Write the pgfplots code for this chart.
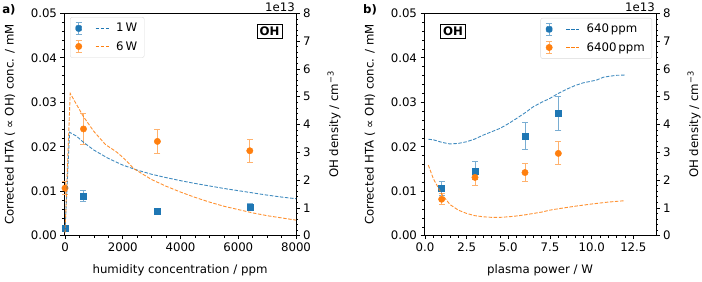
\documentclass[border=0pt]{standalone}
\usepackage{fontspec}
\setmainfont{DejaVu Sans}
\usepackage{pgfplots}
\pgfplotsset{compat=1.18}
\definecolor{tabblue}{HTML}{1F77B4}
\definecolor{taborange}{HTML}{FF7F0E}
\newcommand{\fs}{\fontsize{11.8}{14}\selectfont}
\pgfplotsset{
 base/.style={scale only axis, width=232bp, height=222.4bp,
   font=\fs, /pgf/number format/assume math mode=true,
   tick align=outside, major tick length=3.5bp, minor tick length=2bp,
   every tick/.style={black, line width=0.6bp},
   axis line style={line width=0.8bp},
   ymin=0, scaled ticks=false, clip=false,
   tick label style={font=\fs}, label style={font=\fs}},
 leftax/.style={base, axis y line*=left, xtick pos=bottom, ymax=0.05,
   ytick={0,0.01,0.02,0.03,0.04,0.05}, minor y tick num=4,
   yticklabel style={/pgf/number format/.cd, fixed, fixed zerofill, precision=2},
   ylabel={Corrected HTA ( ∝ OH) conc. / mM},
   ylabel style={at={(rel axis cs:0,0.5)}, anchor=center, yshift=54bp},
   xlabel style={at={(rel axis cs:0.5,0)}, yshift=-35bp, anchor=center}},
 rightax/.style={base, axis y line*=right, axis x line=none, ymax=8,
   ytick={0,1,2,3,4,5,6,7,8}, minor y tick num=4,
   ylabel={OH density / cm\textsuperscript{−3}},
   ylabel style={at={(rel axis cs:1,0.5)}, anchor=center, yshift=-38bp}},
 ebblue/.style={only marks, mark=square*, mark size=3bp, color=tabblue,
   error bars/.cd, y dir=both, y explicit,
   error bar style={tabblue!60, line width=1bp},
   error mark options={tabblue!60, rotate=90, mark size=3bp, line width=1bp}},
 eborange/.style={only marks, mark=*, mark size=3.2bp, color=taborange,
   error bars/.cd, y dir=both, y explicit,
   error bar style={taborange!60, line width=1bp},
   error mark options={taborange!60, rotate=90, mark size=3bp, line width=1bp}},
 dline/.style={line width=0.9bp, dash pattern=on 3.5bp off 1.6bp, opacity=0.85},
 lgd/.style={legend cell align=left, legend style={draw=black!15, rounded corners=2bp,
   fill=white, font=\fs, row sep=4bp, inner xsep=5bp, inner ysep=4bp,
   /tikz/every odd column/.append style={column sep=5bp},
   /tikz/every even column/.append style={column sep=6bp}}},
}
\newcommand{\legimg}[2]{\addlegendimage{legend image code/.code={
  \draw[#1!60, line width=1bp] (8bp,-6bp) -- (8bp,6bp) (5bp,-6bp) -- (11bp,-6bp) (5bp,6bp) -- (11bp,6bp);
  #2
  \draw[#1, line width=0.9bp, dash pattern=on 3.5bp off 1.6bp] (25bp,0bp) -- (38bp,0bp);}}}
\begin{document}
\begin{tikzpicture}
\useasboundingbox (-64bp,-46.3bp) rectangle (638bp,235.7bp);
% ---------- panel a ----------
\begin{axis}[leftax, at={(0bp,0bp)}, xmin=-35, xmax=8000,
  xtick={0,2000,4000,6000,8000}, minor x tick num=3,
  xticklabel style={/pgf/number format/1000 sep={}},
  xlabel={humidity concentration / ppm}]
\addplot[ebblue] table[x=x, y=y, y error=e] {
x y e
0 0.00166 0.0004
640 0.0089 0.0013
3200 0.0056 0.0006
6400 0.0065 0.0008
};
\addplot[eborange] table[x=x, y=y, y error=e] {
x y e
0 0.0107 0.0015
640 0.0240 0.0034
3200 0.0212 0.0027
6400 0.0191 0.0026
};
\end{axis}
\begin{axis}[rightax, at={(0bp,0bp)}, xmin=-35, xmax=8000, lgd,
  legend style={at={(0.026,0.983)}, anchor=north west}]
\addplot[tabblue, dline, forget plot] coordinates {
(0,0.2) (160,3.72) (400,3.58) (640,3.36) (1000,3.08) (1500,2.78) (2000,2.54)
(2500,2.36) (3000,2.21) (3500,2.09) (4000,1.98) (4500,1.88) (5000,1.79)
(5500,1.70) (6000,1.62) (6500,1.54) (7000,1.46) (7500,1.39) (8000,1.33)};
\addplot[taborange, dline, forget plot] coordinates {
(0,0.1) (180,5.12) (640,4.28) (1000,3.75) (1400,3.28) (1800,3.0) (2000,2.82)
(2400,2.4) (3000,2.02) (3500,1.78) (4000,1.57) (4500,1.38) (5000,1.21)
(5500,1.06) (6000,0.94) (6500,0.82) (7000,0.72) (7500,0.64) (8000,0.56)};
\legimg{tabblue}{\fill[tabblue] (5bp,-3bp) rectangle (11bp,3bp);}
\addlegendentry{1\,W}
\legimg{taborange}{\fill[taborange] (8bp,0bp) circle (3.2bp);}
\addlegendentry{6\,W}
\node[anchor=south east, inner sep=1bp, font=\fs] at (rel axis cs:1,1) {1e13};
\node[draw, line width=0.9bp, font=\fs\bfseries, inner sep=2.5bp, fill=white] at (rel axis cs:0.886,0.92) {OH};
\node[anchor=north west, font=\fs\bfseries, inner sep=0pt] at (rel axis cs:-0.267,1.04) {a)};
\end{axis}
% ---------- panel b ----------
\begin{axis}[leftax, at={(360bp,0bp)}, xmin=-0.06, xmax=13.86,
  xtick={0,2.5,5,7.5,10,12.5}, minor x tick num=4,
  xticklabel style={/pgf/number format/.cd, fixed, fixed zerofill, precision=1},
  xlabel={plasma power / W}]
\addplot[ebblue] table[x=x, y=y, y error=e] {
x y e
1 0.0106 0.0015
3 0.0146 0.0020
6 0.0224 0.0031
8 0.0275 0.0039
};
\addplot[eborange] table[x=x, y=y, y error=e] {
x y e
1 0.0082 0.0012
3 0.0131 0.0018
6 0.0142 0.0020
8 0.0185 0.0026
};
\end{axis}
\begin{axis}[rightax, at={(360bp,0bp)}, xmin=-0.06, xmax=13.86, lgd,
  legend style={at={(0.983,0.979)}, anchor=north east}]
\addplot[tabblue, dline, forget plot] coordinates {
(0.2,3.47) (0.5,3.45) (1,3.36) (1.5,3.30) (2,3.32) (2.5,3.38) (3,3.48) (3.5,3.62)
(4,3.74) (4.5,3.86) (5,4.03) (5.5,4.22) (6,4.42) (6.5,4.64) (7,4.80) (7.5,4.94)
(8,5.12) (8.5,5.27) (9,5.40) (9.5,5.50) (10,5.56) (10.3,5.60) (10.7,5.70)
(11,5.73) (11.5,5.77) (12,5.78)};
\addplot[taborange, dline, forget plot] coordinates {
(0.2,2.54) (0.5,2.05) (1,1.5) (1.5,1.12) (2,0.92) (2.5,0.8) (3,0.72) (3.5,0.68)
(4,0.66) (4.5,0.66) (5,0.68) (5.5,0.71) (6,0.75) (7,0.85) (7.5,0.92) (8,0.97)
(9,1.06) (10,1.14) (11,1.21) (12,1.26)};
\legimg{tabblue}{\fill[tabblue] (5bp,-3bp) rectangle (11bp,3bp);}
\addlegendentry{640\,ppm}
\legimg{taborange}{\fill[taborange] (8bp,0bp) circle (3.2bp);}
\addlegendentry{6400\,ppm}
\node[anchor=south east, inner sep=1bp, font=\fs] at (rel axis cs:1,1) {1e13};
\node[draw, line width=0.9bp, font=\fs\bfseries, inner sep=2.5bp, fill=white] at (rel axis cs:0.125,0.92) {OH};
\node[anchor=north west, font=\fs\bfseries, inner sep=0pt] at (rel axis cs:-0.263,1.04) {b)};
\end{axis}
\end{tikzpicture}
\end{document}
